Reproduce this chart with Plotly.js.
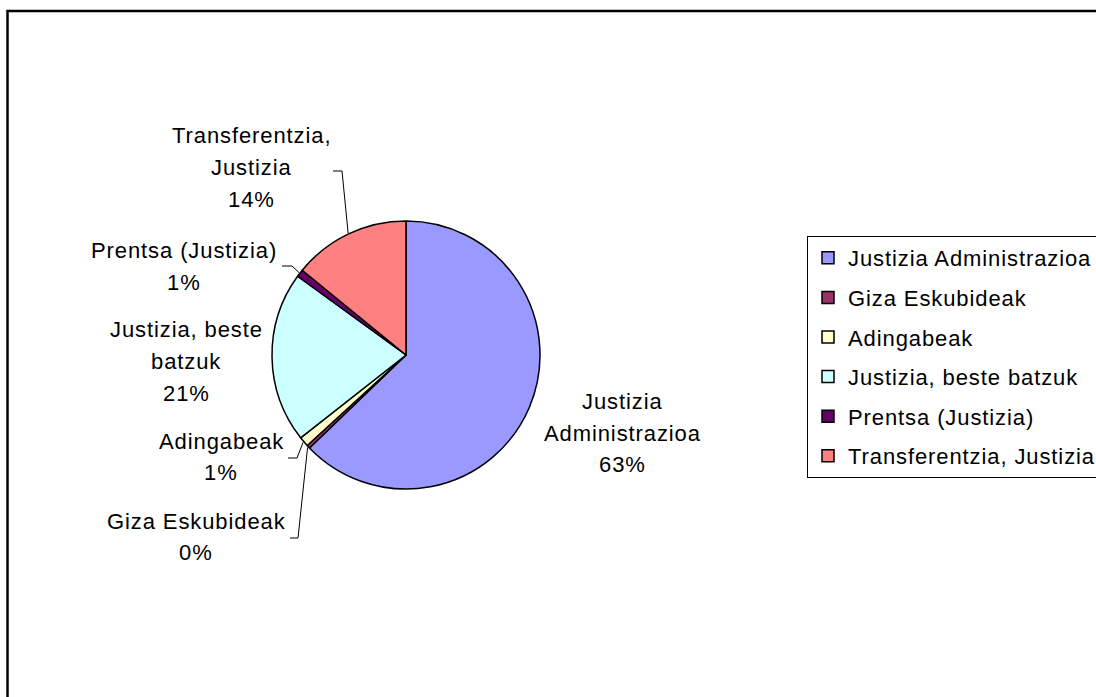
<!DOCTYPE html>
<html><head><meta charset="utf-8">
<script src="https://cdn.plot.ly/plotly-3.0.1.min.js"></script>
<style>
html,body{margin:0;padding:0;background:#fff;}
#chart{width:1096px;height:697px;}
.annotation-text, .legendtext { letter-spacing: 0.9px; }
</style></head><body><div id="chart"></div>
<script>
// ---- data ----
const categories = ["Justizia Administrazioa","Giza Eskubideak","Adingabeak","Justizia, beste batzuk","Prentsa (Justizia)","Transferentzia, Justizia"];
const values = [62.8, 0.4, 1.2, 20.6, 0.9, 14.1];
const colors = ["#9999FF","#993366","#FFFFCC","#CCFFFF","#660066","#FF8080"];
const labelLines = [["Justizia","Administrazioa"],["Giza Eskubideak"],["Adingabeak"],["Justizia, beste","batzuk"],["Prentsa (Justizia)"],["Transferentzia,","Justizia"]];

// ---- layout helpers (pixels) ----
const W = 1096, H = 697;
const cx = 406, cy = 355, R = 134;
const FONT = "Liberation Sans, Arial, sans-serif";
const FS = 22, LINEGAP = 31.7;
const labelPos = [[622,401.5],[196,521],[221,441],[186,330],[184,250.5],[251,136]];
const leaders = [null,[290,298,538],[288,297,458],null,[282,292,266],[333,342,171]];
const px = x => x / W, py = y => 1 - y / H;

const total = values.reduce((a,b)=>a+b,0);
const annotations = [];
const shapes = [];
let cum = 0;
values.forEach((v,i)=>{
  const mid = (cum + v/2) / total; cum += v;
  const lines = labelLines[i].concat([Math.round(v/total*100) + "%"]);
  const [lx, ly] = labelPos[i];
  lines.forEach((t,k)=>{
    annotations.push({xref:'paper', yref:'paper', x:px(lx), y:py(ly + k*LINEGAP),
      xanchor:'center', yanchor:'middle', showarrow:false, text:t,
      font:{family:FONT, size:FS, color:'#000'}});
  });
  if (leaders[i]) {
    const th = mid * 2 * Math.PI;
    const ex = cx + (R+1) * Math.sin(th), ey = cy - (R+1) * Math.cos(th);
    const [x0, x1, yy] = leaders[i];
    shapes.push({type:'path', xref:'paper', yref:'paper',
      path:`M ${px(x0)} ${py(yy)} L ${px(x1)} ${py(yy)} L ${px(ex)} ${py(ey)}`,
      line:{color:'#000', width:1}});
  }
});
// outer frame
shapes.push({type:'rect', xref:'paper', yref:'paper', x0:px(7.5), x1:1.05, y0:-0.05, y1:py(11),
  line:{color:'#000', width:2.5}, fillcolor:'rgba(0,0,0,0)'});

const traces = [{
  type:'pie', values:values, labels:categories, sort:false, direction:'clockwise', rotation:0,
  marker:{colors:colors, line:{color:'#000', width:1.5}},
  textinfo:'none', showlegend:false,
  domain:{x:[px(cx-R), px(cx+R)], y:[py(cy+R), py(cy-R)]}
}];
categories.forEach((c,i)=>{
  traces.push({type:'scatter', x:[null], y:[null], mode:'markers', name:c, legendgroup:'g'+i,
    marker:{symbol:'square', size:12, color:colors[i], line:{color:'#000', width:1.5}},
    hoverinfo:'skip'});
});

const layout = {
  width:W, height:H, margin:{l:0,r:0,t:0,b:0,autoexpand:false},
  paper_bgcolor:'#fff', plot_bgcolor:'#fff',
  xaxis:{visible:false}, yaxis:{visible:false},
  showlegend:true,
  legend:{x:px(807), xanchor:'left', y:py(236), yanchor:'top', bgcolor:'#fff',
    bordercolor:'#000', borderwidth:1, font:{family:FONT, size:FS, color:'#000'},
    traceorder:'grouped', tracegroupgap:8, itemsizing:'trace'},
  annotations:annotations, shapes:shapes
};
Plotly.newPlot('chart', traces, layout, {displayModeBar:false, staticPlot:true});
</script></body></html>
